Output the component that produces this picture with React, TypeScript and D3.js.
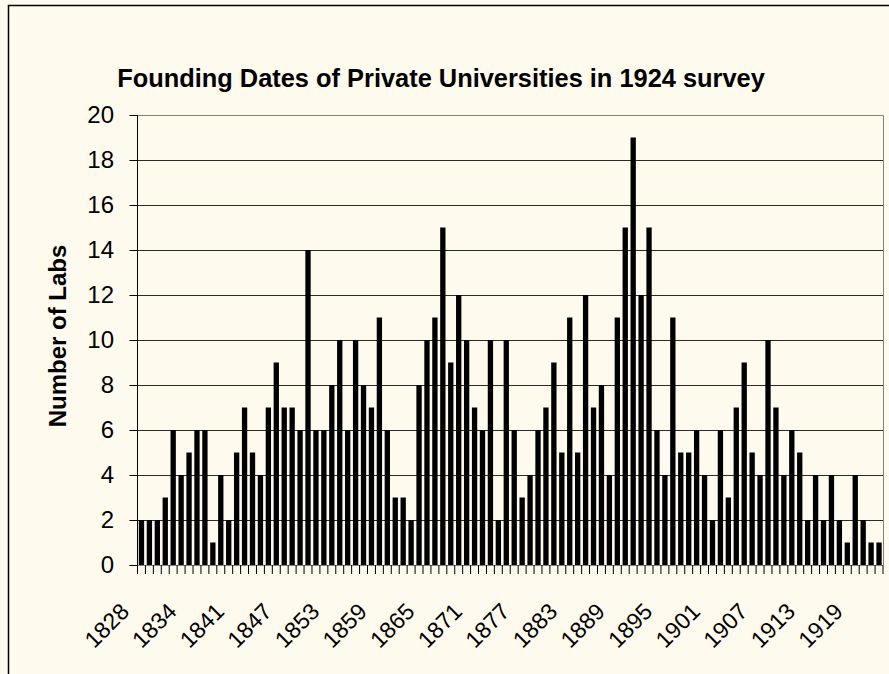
import React, { useEffect, useRef } from 'react';
import * as d3 from 'd3';

// one bar per year in the survey (1837 has no entry)
const years: number[] = [...d3.range(1828, 1837), ...d3.range(1838, 1923)];

const counts: number[] = [
    2, 2, 2, 3, 6, 4, 5, 6, 6, 1, 4, 2, 5, 7, 5, 4, 7, 9, 7, 7, 6, 14, 6, 6, 8, 10, 6, 10, 8, 7, 11, 6,
    3, 3, 2, 8, 10, 11, 15, 9, 12, 10, 7, 6, 10, 2, 10, 6, 3, 4, 6, 7, 9, 5, 11, 5, 12, 7, 8, 4, 11, 15, 19, 12,
    15, 6, 4, 11, 5, 5, 6, 4, 2, 6, 3, 7, 9, 5, 4, 10, 7, 4, 6, 5, 2, 4, 2, 4, 2, 1, 4, 2, 1, 1,
];

const tickLabels: number[] = [1828, 1834, 1841, 1847, 1853, 1859, 1865, 1871, 1877, 1883, 1889, 1895, 1901, 1907, 1913, 1919];
const yTicks: number[] = [0, 2, 4, 6, 8, 10, 12, 14, 16, 18, 20];

const title = 'Founding Dates of Private Universities in 1924 survey';
const yTitle = 'Number of Labs';

export default function App() {
    const ref = useRef<SVGSVGElement>(null);

    useEffect(() => {
        const svg = d3.select(ref.current);
        svg.selectAll('*').remove();

        const width = 889;
        const height = 674;
        const font = 'Arial, "Liberation Sans", sans-serif';
        const plot = { left: 137.5, right: 883, top: 115, bottom: 565 };

        svg.append('rect').attr('width', width).attr('height', height).attr('fill', '#fffaee');
        // outer chart frame (runs off the right and bottom edges)
        svg.append('rect')
            .attr('x', 8.5).attr('y', 5.5)
            .attr('width', width + 20).attr('height', height + 20)
            .attr('fill', 'none').attr('stroke', '#000').attr('stroke-width', 1.5);

        const x = d3.scaleBand<number>()
            .domain(years)
            .range([plot.left, plot.right])
            .paddingInner(0.33)
            .paddingOuter(0.165);
        const step = x.step();

        const y = d3.scaleLinear().domain([0, 20]).range([plot.bottom, plot.top]);

        // gridlines
        svg.append('g')
            .selectAll('line')
            .data(yTicks.filter((d) => d > 0 && d < 20))
            .join('line')
            .attr('x1', plot.left).attr('x2', plot.right)
            .attr('y1', (d) => Math.round(y(d)) + 0.5).attr('y2', (d) => Math.round(y(d)) + 0.5)
            .attr('stroke', '#2a2a2a').attr('stroke-width', 1);

        // plot area border (top + right)
        svg.append('path')
            .attr('d', `M${plot.left},${plot.top + 0.5}H${plot.right + 0.5}V${plot.bottom}`)
            .attr('fill', 'none').attr('stroke', '#808080').attr('stroke-width', 1);

        // bars
        svg.append('g')
            .selectAll('rect')
            .data(counts)
            .join('rect')
            .attr('x', (d, i) => x(years[i]) as number)
            .attr('y', (d) => y(d))
            .attr('width', x.bandwidth())
            .attr('height', (d) => y(0) - y(d))
            .attr('fill', '#000');

        // x axis line and ticks between categories
        svg.append('line')
            .attr('x1', plot.left - 8).attr('x2', plot.right)
            .attr('y1', plot.bottom + 0.5).attr('y2', plot.bottom + 0.5)
            .attr('stroke', '#808080');
        const bounds = [...years.map((yr) => (x(yr) as number) + x.bandwidth() / 2 - step / 2), plot.right];
        svg.append('g')
            .selectAll('line')
            .data(bounds)
            .join('line')
            .attr('x1', (d) => d).attr('x2', (d) => d)
            .attr('y1', plot.bottom).attr('y2', plot.bottom + 9)
            .attr('stroke', '#000').attr('stroke-width', 1);

        svg.append('g')
            .selectAll('text')
            .data(tickLabels)
            .join('text')
            .attr('transform', (d) => `translate(${(x(d) as number) + x.bandwidth() / 2 - 11},613) rotate(-45)`)
            .attr('text-anchor', 'end')
            .attr('font-family', font)
            .attr('font-size', 23)
            .attr('fill', '#000')
            .text((d) => d);

        // y axis
        svg.append('line')
            .attr('x1', plot.left).attr('x2', plot.left)
            .attr('y1', plot.top).attr('y2', plot.bottom)
            .attr('stroke', '#000');
        svg.append('g')
            .selectAll('line')
            .data(yTicks)
            .join('line')
            .attr('x1', plot.left - 8).attr('x2', plot.left)
            .attr('y1', (d) => Math.round(y(d)) + 0.5).attr('y2', (d) => Math.round(y(d)) + 0.5)
            .attr('stroke', '#000');
        svg.append('g')
            .selectAll('text')
            .data(yTicks)
            .join('text')
            .attr('x', 114)
            .attr('y', (d) => y(d))
            .attr('dy', '0.35em')
            .attr('text-anchor', 'end')
            .attr('font-family', font)
            .attr('font-size', 24)
            .attr('fill', '#000')
            .text((d) => d);

        // titles
        svg.append('text')
            .attr('x', 441).attr('y', 87)
            .attr('text-anchor', 'middle')
            .attr('font-family', font)
            .attr('font-weight', 'bold')
            .attr('font-size', 25.4)
            .attr('fill', '#000')
            .text(title);

        svg.append('text')
            .attr('transform', `translate(66,336) rotate(-90)`)
            .attr('text-anchor', 'middle')
            .attr('font-family', font)
            .attr('font-weight', 'bold')
            .attr('font-size', 24)
            .attr('fill', '#000')
            .text(yTitle);
    }, []);

    return (
        <svg
            ref={ref}
            width={889}
            height={674}
            style={{ position: 'absolute', left: 0, top: 0, display: 'block' }}
        />
    );
}
